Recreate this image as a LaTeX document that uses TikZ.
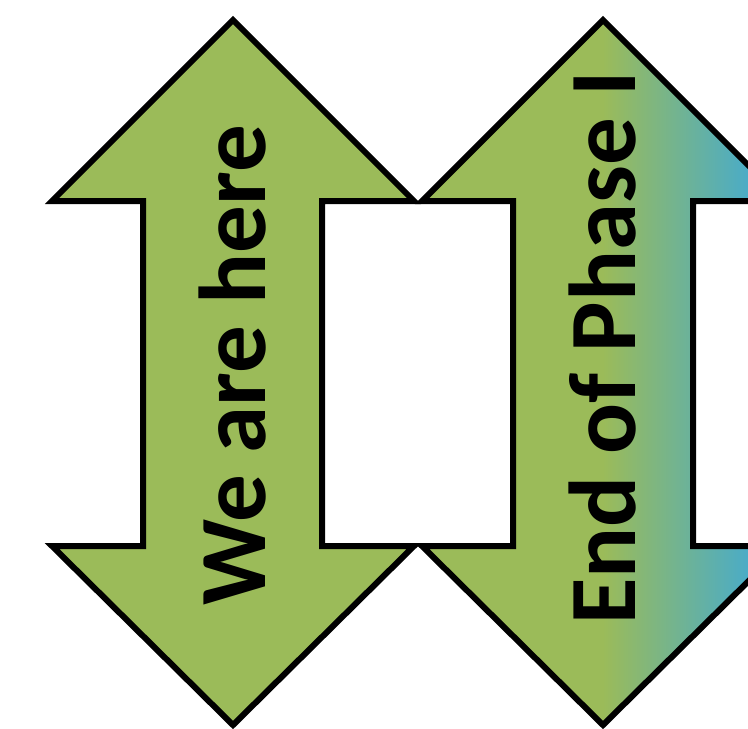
\documentclass[tikz,border=0pt]{standalone}
\usepackage{fontspec}
\setmainfont{Carlito}
\usepackage{tikz}

\definecolor{leafgreen}{HTML}{9BBB59}
\definecolor{aquablue}{HTML}{4BACC6}
\pgfdeclarehorizontalshading{phasefade}{100bp}{color(0bp)=(leafgreen); color(50bp)=(leafgreen); color(70bp)=(aquablue); color(100bp)=(aquablue)}

\begin{document}
\begin{tikzpicture}
  [x=1pt, y=-1pt,
   arrow shape/.style={draw=black, line width=6pt, line join=miter},
   arrow text/.style={rotate=90, anchor=base, inner sep=0pt, font=\bfseries\fontsize{95}{95}\selectfont}]

\useasboundingbox (0,0) rectangle (748,729);
\clip (0,0) rectangle (748,729);

% first double arrow
\draw[arrow shape, fill=leafgreen]
  (233,20) -- (414,201) -- (322,201) -- (322,546) -- (414,546) -- (233,725)
  -- (52,546) -- (143,546) -- (143,201) -- (52,201) -- cycle;

% second double arrow, fading to blue
\draw[arrow shape, shading=phasefade]
  (603,20) -- (784,201) -- (693,201) -- (693,546) -- (784,546) -- (603,725)
  -- (422,546) -- (513,546) -- (513,201) -- (422,201) -- cycle;

\node[arrow text] (here) at (265,365) {We are here};
\node[arrow text] (phase) at (635,348) {End of Phase I};

\end{tikzpicture}
\end{document}
